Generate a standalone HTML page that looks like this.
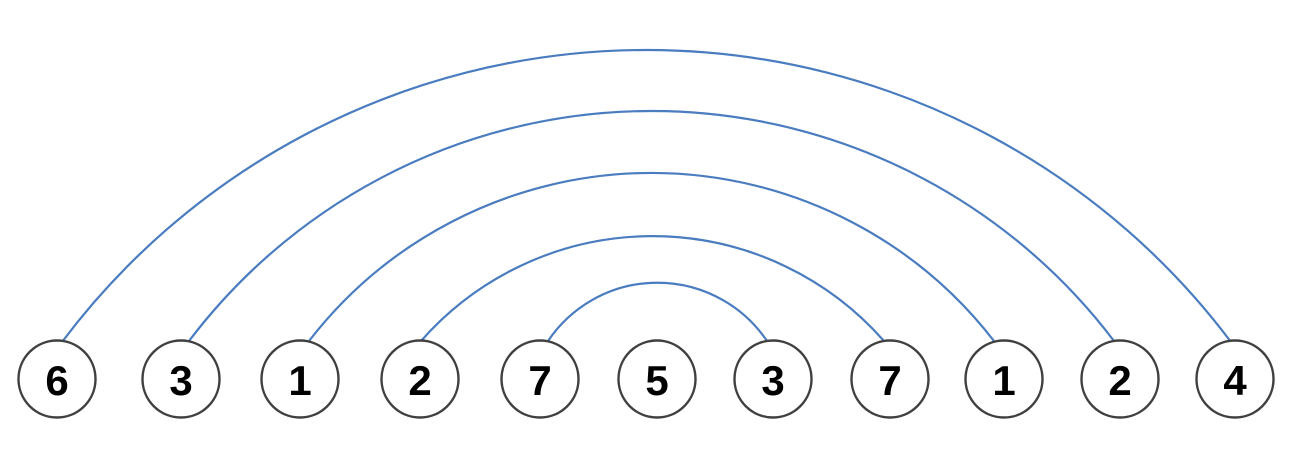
<!DOCTYPE html>
<html><head><style>html,body{margin:0;padding:0;background:#fff;width:1299px;height:460px;overflow:hidden}</style></head>
<body>
<svg width="1299" height="460" xmlns="http://www.w3.org/2000/svg">
<g fill="none" stroke="#4a7cc0" stroke-width="2.2">
<path d="M62 342 A731 731 0 0 1 1231 342"/>
<path d="M189 341 A580 580 0 0 1 1114 341"/>
<path d="M309 341 A433 433 0 0 1 994 341"/>
<path d="M421 341 A308 308 0 0 1 884 341"/>
<path d="M548 341 A132 132 0 0 1 767 341"/>
</g>
<g fill="#fff" stroke="#404040" stroke-width="2.4">
<circle cx="57" cy="379" r="38.5"/><circle cx="181" cy="379" r="38.5"/><circle cx="300" cy="379" r="38.5"/>
<circle cx="420" cy="379" r="38.5"/><circle cx="540" cy="379" r="38.5"/><circle cx="657" cy="379" r="38.5"/>
<circle cx="773" cy="379" r="38.5"/><circle cx="890" cy="379" r="38.5"/><circle cx="1004" cy="379" r="38.5"/>
<circle cx="1120" cy="379" r="38.5"/><circle cx="1235" cy="379" r="38.5"/>
</g>
<g font-family="'Liberation Sans',sans-serif" font-weight="bold" font-size="42" text-anchor="middle" fill="#000">
<text x="57" y="395">6</text><text x="181" y="395">3</text><text x="300" y="395">1</text>
<text x="420" y="395">2</text><text x="540" y="395">7</text><text x="657" y="395">5</text>
<text x="773" y="395">3</text><text x="890" y="395">7</text><text x="1004" y="395">1</text>
<text x="1120" y="395">2</text><text x="1235" y="395">4</text>
</g>
</svg>
</body></html>
